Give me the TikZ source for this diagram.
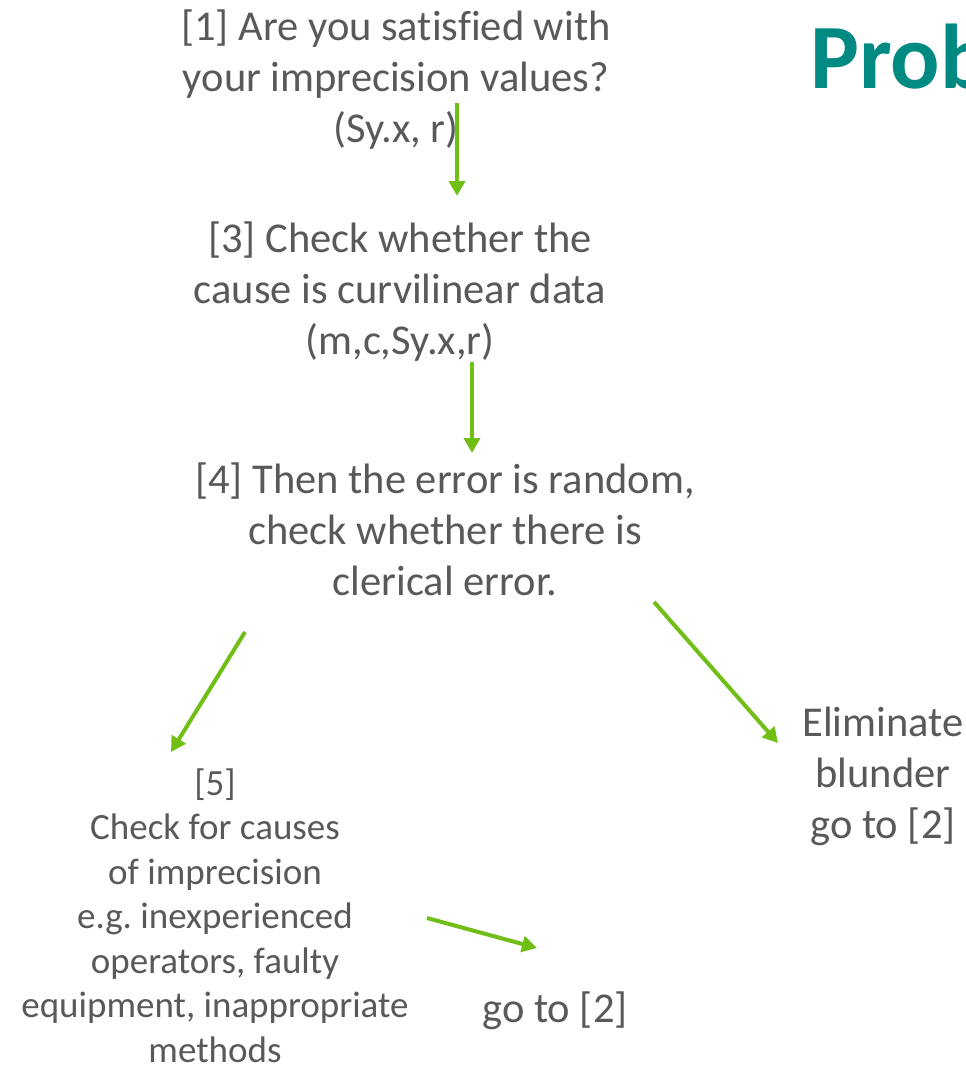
\documentclass[tikz,border=0pt]{standalone}
\usepackage{fontspec}
\setmainfont{Carlito}[Ligatures=NoCommon]
\frenchspacing
\usetikzlibrary{arrows.meta}
\definecolor{txtgray}{RGB}{89,89,89}
\definecolor{arrgreen}{RGB}{113,190,22}
\definecolor{titleteal}{RGB}{0,138,130}
\tikzset{
  big/.style={font=\fontsize{42.5}{51}\selectfont, text=txtgray, align=center, inner sep=0pt, anchor=base},
  small/.style={font=\fontsize{37}{44.5}\selectfont, text=txtgray, align=center, inner sep=0pt, anchor=base},
  garrow/.style={draw=arrgreen, line width=4pt, -{Triangle[length=15pt,width=16pt]}},
}
\begin{document}
\begin{tikzpicture}[x=1pt,y=1pt]
\useasboundingbox (0,0) rectangle (966,-1068);
\node[anchor=base west, inner sep=0pt, text=titleteal, font=\fontsize{92}{110}\selectfont\bfseries] (title) at (810,-88) {Prob};
\node[big] (q1) at (396,-142) {[1] Are you satisfied with\\your imprecision values?\\(Sy.x, r)};
\node[big] (q3) at (400,-354) {[3] Check whether the\\cause is curvilinear data\\(m,c,Sy.x,r)};
\node[big] (q4) at (445,-595) {[4] Then the error is random,\\check whether there is\\clerical error.};
\node[small] (q5) at (215,-1062) {[5]\\Check for causes\\of imprecision\\e.g.\ inexperienced\\operators, faulty\\equipment, inappropriate\\methods};
\node[big] (elim) at (883,-838) {Eliminate\\blunder\\go to [2]};
\node[big] (goto) at (555,-1022) {go to [2]};
\coordinate (a1s) at (457,-103); \coordinate (a1e) at (457,-196);
\coordinate (a2s) at (472,-362); \coordinate (a2e) at (472,-453);
\coordinate (a3s) at (245,-632); \coordinate (a3e) at (171,-752);
\coordinate (a4s) at (654,-602); \coordinate (a4e) at (778,-743);
\coordinate (a5s) at (427,-918); \coordinate (a5e) at (537,-948);
\draw[garrow] (a1s) -- (a1e);
\draw[garrow] (a2s) -- (a2e);
\draw[garrow] (a3s) -- (a3e);
\draw[garrow] (a4s) -- (a4e);
\draw[garrow] (a5s) -- (a5e);
\end{tikzpicture}
\end{document}
